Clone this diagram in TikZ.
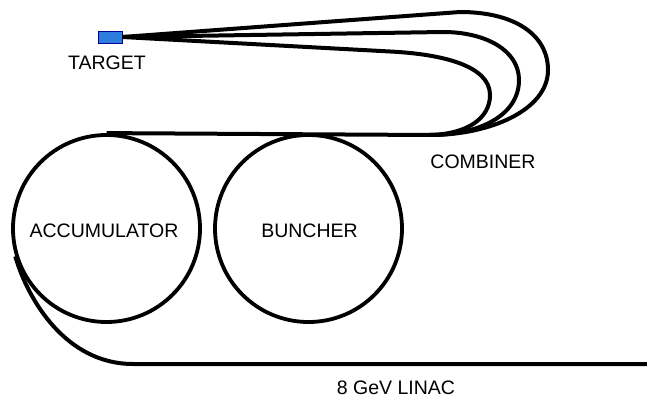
\documentclass[tikz,border=0pt]{standalone}
\usepackage{fontspec}
\setmainfont{Liberation Sans}
\begin{document}
\begin{tikzpicture}[x=1pt,y=-1pt,
  beam/.style={line width=4pt, line join=round},
  ring/.style={circle, draw, line width=3.8pt, minimum size=187pt, inner sep=0pt},
  lbl/.style={anchor=base, inner sep=0pt, font=\fontsize{19.5}{22}\selectfont},
  targetbox/.style={draw=blue!60!black, line width=0.6pt, fill={rgb,255:red,45;green,125;blue,222},
    minimum width=24pt, minimum height=12pt, inner sep=0pt}]
\useasboundingbox (0,0) rectangle (647,398);

% rings
\node[ring] (acc) at (106.5,228.5) {};
\node[ring] (bun) at (308.5,228.5) {};

% target
\node[targetbox] (tgt) at (110,37) {};

% merge point of the combiner loops
\coordinate (merge) at (430,135);
\coordinate (linacend) at (647,364);

% labels
\node[lbl] (ltgt) at (107,69.3) {TARGET};
\node[lbl] (lacc) at (104,237) {ACCUMULATOR};
\node[lbl] (lbun) at (309.5,237) {BUNCHER};
\node[lbl] (lcomb) at (483,168) {COMBINER};
\node[lbl] (llinac) at (396,394) {8 GeV LINAC};

% transfer line over the rings
\draw[beam] (acc.north) -- (merge);

% combiner loops back to the target
\draw[beam] (merge) .. controls (490,135) and (548,110) .. (548,70)
  .. controls (548,35) and (515,12) .. (460,12) -- (tgt.east);
\draw[beam] (merge) .. controls (480,135) and (519,115) .. (519,80)
  .. controls (519,50) and (485,32) .. (443,32) -- (tgt.east);
\draw[beam] (merge) .. controls (468,134) and (490,118) .. (490,95)
  .. controls (490,65) and (440,54) .. (390,51.5) -- (tgt.east);

% linac injection into the accumulator
\draw[beam] (linacend) -- (133,364) .. controls (66,364) and (28,300) .. (acc.197);
\end{tikzpicture}
\end{document}
